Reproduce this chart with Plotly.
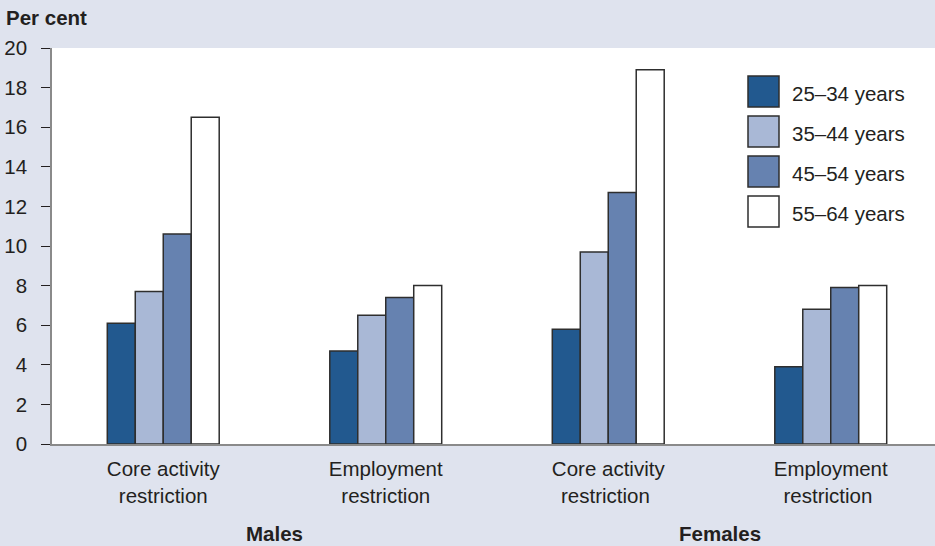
import plotly.graph_objects as go

# Data: per cent of people with restrictions, by sex, restriction type and age group
categories = ["Core activity<br>restriction", "Employment<br>restriction",
              "Core activity<br>restriction ", "Employment<br>restriction "]
groups = ["Males", "Females"]
age_groups = ["25–34 years", "35–44 years", "45–54 years", "55–64 years"]
values_25_34 = [6.1, 4.7, 5.8, 3.9]
values_35_44 = [7.7, 6.5, 9.7, 6.8]
values_45_54 = [10.6, 7.4, 12.7, 7.9]
values_55_64 = [16.5, 8.0, 18.9, 8.0]
series_values = [values_25_34, values_35_44, values_45_54, values_55_64]
y_ticks = [0, 2, 4, 6, 8, 10, 12, 14, 16, 18, 20]

colors = ["#22598f", "#a9b8d6", "#6682b0", "#ffffff"]
outline = "#2e2e2e"
bg = "#dfe3ee"
font_family = "Liberation Sans, Arial, sans-serif"
text_color = "#231f20"
fs = 20.5

W, H = 935, 546
m_l, m_r, m_t, m_b = 52, 0, 48, 102
plot_w = W - m_l - m_r
plot_h = H - m_t - m_b

# category spacing in pixels; the last group runs slightly past the right edge
cat_px = 222.5
x_range = [-0.5, -0.5 + plot_w / cat_px]

fig = go.Figure()
for name, vals, col in zip(age_groups, series_values, colors):
    fig.add_trace(go.Bar(
        x=categories, y=vals, name=name,
        marker=dict(color=col, line=dict(color=outline, width=1.5)),
        showlegend=False,
    ))

# Custom legend with large swatches
box = 31
step = 40
lx0 = 748
ly0 = 76
shapes = []
annotations = []
for i, (name, col) in enumerate(zip(age_groups, colors)):
    top = ly0 + i * step
    shapes.append(dict(
        type="rect", xref="paper", yref="paper",
        x0=(lx0 - m_l) / plot_w, x1=(lx0 + box - m_l) / plot_w,
        y0=(H - m_b - top - box) / plot_h, y1=(H - m_b - top) / plot_h,
        fillcolor=col, line=dict(color=outline, width=1.5), layer="above",
    ))
    annotations.append(dict(
        text=name, xref="paper", yref="paper",
        x=(lx0 + box + 11 - m_l) / plot_w,
        y=(H - m_b - top - box / 2 - 2) / plot_h,
        xanchor="left", yanchor="middle", showarrow=False,
        font=dict(size=fs, color=text_color, family=font_family),
    ))

# Group labels beneath the category labels
for gi, g in enumerate(groups):
    annotations.append(dict(
        text=f"<b>{g}</b>", xref="x", yref="paper",
        x=gi * 2 + 0.5, y=-(533 - (H - m_b)) / plot_h,
        xanchor="center", yanchor="middle", showarrow=False,
        font=dict(size=fs, color=text_color, family=font_family),
    ))

# Axis title at top-left
annotations.append(dict(
    text="<b>Per cent</b>", xref="paper", yref="paper",
    x=-(m_l - 4) / plot_w, y=(H - m_b - 17) / plot_h,
    xanchor="left", yanchor="middle", showarrow=False,
    font=dict(size=fs, color=text_color, family=font_family),
))

fig.update_layout(
    width=W, height=H,
    margin=dict(l=m_l, r=m_r, t=m_t, b=m_b, pad=0),
    paper_bgcolor=bg, plot_bgcolor="#ffffff",
    barmode="group", bargap=0.497, bargroupgap=0,
    font=dict(family=font_family, size=fs, color=text_color),
    shapes=shapes, annotations=annotations,
)
fig.update_xaxes(
    type="category", range=x_range,
    showline=True, linecolor="#8a8a8a", linewidth=1.5,
    ticks="", showgrid=False, zeroline=False,
    ticklabelstandoff=6,
    tickfont=dict(size=fs, color=text_color),
)
fig.update_yaxes(
    range=[0, 20], tickvals=y_ticks,
    showline=True, linecolor="#8a8a8a", linewidth=1.5,
    ticks="outside", ticklen=9, tickcolor="#231f20", tickwidth=1,
    ticklabelstandoff=10,
    showgrid=False, zeroline=False,
    tickfont=dict(size=fs, color=text_color),
)

fig.write_html("out.html")
